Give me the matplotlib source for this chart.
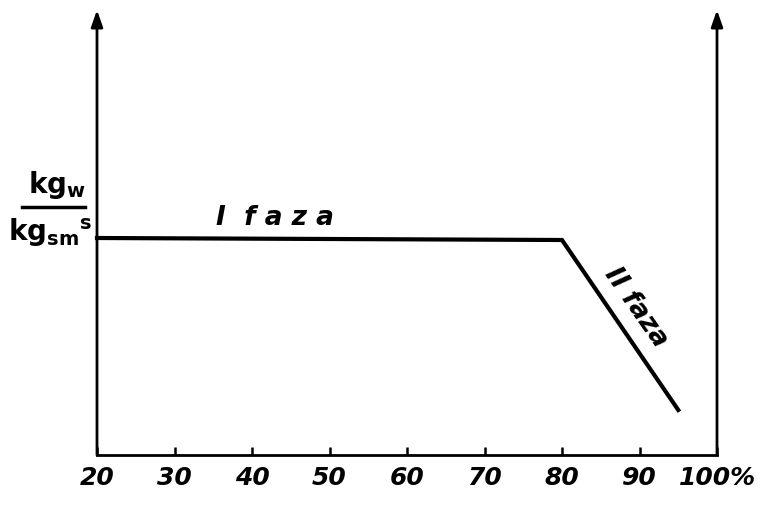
import matplotlib
matplotlib.use("Agg")
import matplotlib.pyplot as plt

# data
x_vals = [20, 80, 95]
y_vals = [217, 215, 45]
x_ticks = [20, 30, 40, 50, 60, 70, 80, 90, 100]
x_tick_labels = ["20", "30", "40", "50", "60", "70", "80", "90", "100%"]
phase1_label = "I  f a z a"
phase2_label = "II faza"

fig = plt.figure(figsize=(7.74, 5.07), dpi=100)
ax = fig.add_axes([97/774, (507-455)/507, 620/774, 445/507])
ax.set_xlim(20, 100)
ax.set_ylim(0, 445)

for s in ["top", "left", "right"]:
    ax.spines[s].set_visible(False)
ax.spines["bottom"].set_linewidth(2)
ax.spines["bottom"].set_color("black")

ax.set_xticks(x_ticks)
ax.set_xticklabels(x_tick_labels, fontsize=18, style="italic", weight="bold",
                   family="DejaVu Sans")
ax.tick_params(axis="x", direction="in", length=6, width=1.8, pad=8)
ax.set_yticks([])

# vertical axes with arrows
for xa in (20, 100):
    ax.annotate("", xy=(xa, 445), xytext=(xa, 0), xycoords="data",
                arrowprops=dict(arrowstyle="-|>,head_length=1.0,head_width=0.35",
                                lw=2, color="black", shrinkA=0, shrinkB=0),
                annotation_clip=False)

ax.plot(x_vals, y_vals, color="black", lw=3, solid_joinstyle="miter", clip_on=False)

ax.text(35.3, 224, phase1_label, fontsize=19, style="italic", weight="bold",
        family="DejaVu Sans", ha="left", va="bottom")
ax.text(89.6, 148, phase2_label, fontsize=19, style="italic", weight="bold",
        family="DejaVu Sans", rotation=-55, rotation_mode="anchor",
        ha="center", va="center")

# y label as a fraction
fig.text(57/774, 1 - 185/507, r"$\mathbf{kg_w}$", fontsize=20, ha="center", va="center")
fig.add_artist(plt.Line2D([22/774, 85/774], [1 - 207/507, 1 - 207/507], lw=2.5, color="black"))
fig.text(50/774, 1 - 233/507, r"$\mathbf{kg_{sm}{}^s}$", fontsize=20, ha="center", va="center")

fig.savefig("out.png", dpi=100)
